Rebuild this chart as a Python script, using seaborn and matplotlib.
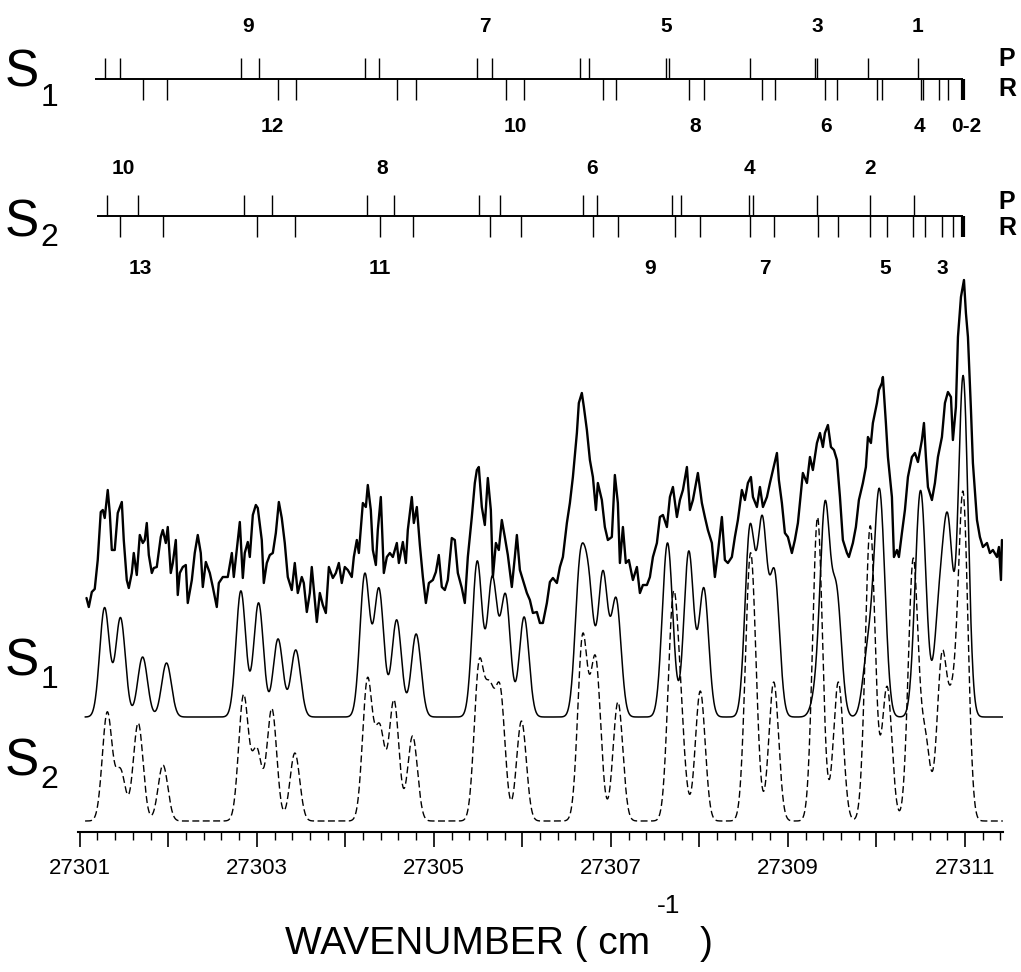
import numpy as np
import pandas as pd
import matplotlib
matplotlib.use("Agg")
import matplotlib.pyplot as plt
from matplotlib import font_manager
from matplotlib.ticker import MultipleLocator, FuncFormatter
import seaborn as sns

# ---------------- data ----------------
# stick positions (cm-1) and simulated line intensities (arb. units)
s1_p_pos = [27301.28, 27301.46, 27302.82, 27303.02, 27304.22, 27304.38, 27305.49, 27305.66,
            27306.65, 27306.75, 27307.62, 27307.66, 27308.57, 27309.31, 27309.33, 27309.90, 27310.47]
s1_p_int = [109, 99, 126, 114, 142, 127, 155, 137, 140, 120, 93, 93, 185, 10, 10, 60, 90]
s1_r_pos = [27301.71, 27301.98, 27303.24, 27303.44, 27304.58, 27304.80, 27305.81, 27306.02,
            27306.91, 27307.06, 27307.88, 27308.05, 27308.71, 27308.85, 27309.42, 27309.55,
            27310.01, 27310.06, 27310.50, 27310.53, 27310.71, 27310.81, 27310.98]
s1_r_int = [60, 54, 78, 67, 97, 83, 120, 100, 142, 116, 165, 128, 189, 140, 205, 120,
            130, 120, 80, 80, 100, 180, 340]

s2_p_pos = [27301.31, 27301.66, 27302.85, 27303.17, 27304.25, 27304.55, 27305.51, 27305.75,
            27306.68, 27306.84, 27307.69, 27307.79, 27308.56, 27308.61, 27309.33, 27309.93, 27310.42]
s2_p_int = [108, 98, 125, 112, 140, 120, 150, 125, 180, 110, 150, 70, 100, 100, 155, 150, 130]
s2_r_pos = [27301.46, 27301.94, 27303.00, 27303.43, 27304.39, 27304.76, 27305.63, 27305.99,
            27306.80, 27307.08, 27307.73, 27308.01, 27308.57, 27308.84, 27309.34, 27309.57,
            27309.93, 27310.12, 27310.41, 27310.55, 27310.74, 27310.86, 27310.98]
s2_r_int = [50, 56, 70, 68, 90, 85, 115, 100, 60, 119, 70, 130, 90, 139, 150, 139,
            145, 134, 130, 80, 160, 100, 320]

line_sigma = 0.055  # cm-1, Gaussian width of simulated lines

# rotational labels
s1_p_labels = ["9", "7", "5", "3", "1"]
s1_p_label_pos = [27302.90, 27305.58, 27307.63, 27309.33, 27310.46]
s1_r_labels = ["12", "10", "8", "6", "4", "0-2"]
s1_r_label_pos = [27303.18, 27305.92, 27307.95, 27309.43, 27310.49, 27311.02]
s2_p_labels = ["10", "8", "6", "4", "2"]
s2_p_label_pos = [27301.49, 27304.42, 27306.79, 27308.57, 27309.93]
s2_r_labels = ["13", "11", "9", "7", "5", "3"]
s2_r_label_pos = [27301.68, 27304.39, 27307.44, 27308.74, 27310.10, 27310.75]

# experimental trace: wavenumber above 27300 cm-1, intensity (arb.)
exp_wn_off = [
    1.076, 1.102, 1.136, 1.169, 1.203, 1.237, 1.260, 1.282, 1.316, 1.339,
    1.362, 1.395, 1.429, 1.475, 1.497, 1.531, 1.554, 1.588, 1.610, 1.644,
    1.678, 1.712, 1.734, 1.757, 1.780, 1.814, 1.836, 1.870, 1.915, 1.938,
    1.972, 1.994, 2.028, 2.051, 2.085, 2.107, 2.130, 2.164, 2.198, 2.220,
    2.266, 2.299, 2.333, 2.367, 2.390, 2.424, 2.469, 2.503, 2.548, 2.571,
    2.616, 2.672, 2.718, 2.740, 2.774, 2.808, 2.842, 2.864, 2.898, 2.921,
    2.955, 2.989, 3.011, 3.056, 3.079, 3.113, 3.147, 3.181, 3.215, 3.249,
    3.282, 3.316, 3.350, 3.395, 3.429, 3.463, 3.508, 3.531, 3.565, 3.599,
    3.621, 3.655, 3.678, 3.712, 3.746, 3.780, 3.814, 3.859, 3.893, 3.927,
    3.960, 3.994, 4.028, 4.073, 4.096, 4.130, 4.153, 4.198, 4.232, 4.254,
    4.288, 4.311, 4.345, 4.367, 4.401, 4.435, 4.469, 4.503, 4.537, 4.582,
    4.605, 4.650, 4.684, 4.706, 4.751, 4.774, 4.808, 4.842, 4.876, 4.910,
    4.944, 4.989, 5.023, 5.056, 5.090, 5.124, 5.158, 5.203, 5.237, 5.271,
    5.316, 5.350, 5.384, 5.429, 5.463, 5.486, 5.508, 5.542, 5.576, 5.610,
    5.644, 5.667, 5.701, 5.734, 5.768, 5.802, 5.836, 5.881, 5.915, 5.938,
    5.972, 6.006, 6.051, 6.085, 6.119, 6.164, 6.198, 6.232,
    6.277, 6.311, 6.345, 6.390, 6.424, 6.458, 6.503, 6.537, 6.571, 6.616,
    6.638, 6.672, 6.695, 6.729, 6.763, 6.797, 6.831, 6.853, 6.898, 6.932,
    6.966, 7.011, 7.045, 7.079, 7.102, 7.136, 7.169, 7.203, 7.249, 7.294,
    7.328, 7.362, 7.407, 7.441, 7.475, 7.520, 7.554, 7.588, 7.633, 7.667,
    7.701, 7.746, 7.780, 7.814, 7.859, 7.893, 7.927, 7.983, 8.028, 8.062,
    8.096, 8.141, 8.175, 8.209, 8.254, 8.288, 8.322, 8.367, 8.401, 8.435,
    8.480, 8.514, 8.548, 8.582, 8.605, 8.650, 8.684, 8.718, 8.763, 8.797,
    8.831, 8.876, 8.898, 8.932, 8.966, 9.000, 9.045, 9.079, 9.113, 9.169,
    9.215, 9.249, 9.282, 9.328, 9.362, 9.395, 9.418, 9.452, 9.486, 9.520,
    9.554, 9.588, 9.621, 9.667, 9.689, 9.734, 9.768, 9.802, 9.847, 9.881,
    9.904, 9.938, 9.960, 10.006, 10.028, 10.062, 10.073, 10.107, 10.130, 10.175,
    10.198, 10.232, 10.254, 10.288, 10.322, 10.356, 10.401, 10.435, 10.469, 10.514,
    10.537, 10.559, 10.582, 10.627, 10.661, 10.695, 10.740, 10.774, 10.808, 10.842,
    10.864, 10.898, 10.921, 10.955, 10.989, 11.011, 11.034, 11.068, 11.090, 11.136,
    11.169, 11.203, 11.249, 11.282, 11.316, 11.362, 11.384, 11.407, 11.418]
exp_int = [
    42, 33, 48, 51, 80, 128, 130, 122, 150, 127,
    90, 90, 127, 138, 100, 60, 52, 67, 87, 65,
    105, 97, 100, 117, 85, 67, 72, 73, 103, 110,
    97, 113, 67, 77, 100, 45, 67, 73, 75, 37,
    60, 87, 105, 87, 53, 78, 67, 53, 33, 57,
    63, 63, 87, 63, 90, 118, 62, 87, 98, 83,
    125, 135, 132, 100, 57, 77, 85, 87, 107, 138,
    122, 97, 63, 50, 77, 47, 63, 57, 28, 47,
    73, 40, 18, 47, 35, 27, 73, 62, 67, 77,
    57, 73, 70, 63, 83, 100, 87, 137, 133, 155,
    130, 90, 75, 110, 143, 67, 83, 87, 83, 97,
    77, 98, 77, 110, 143, 117, 133, 95, 63, 37,
    57, 60, 68, 85, 53, 50, 60, 102, 100, 67,
    52, 37, 83, 123, 157, 170, 173, 133, 115, 162,
    130, 63, 97, 90, 120, 103, 85, 53, 83, 105,
    70, 60, 47, 40, 27, 28, 17, 17,
    37, 58, 62, 57, 73, 83, 117, 137, 163, 207,
    237, 247, 233, 210, 180, 163, 130, 157, 140, 113,
    100, 103, 165, 137, 77, 113, 77, 80, 60, 73,
    47, 55, 55, 63, 83, 97, 123, 125, 113, 143,
    153, 123, 140, 150, 173, 130, 140, 167, 137, 123,
    110, 97, 63, 87, 123, 80, 77, 83, 103, 120,
    150, 140, 157, 163, 143, 133, 153, 133, 143, 157,
    170, 187, 160, 137, 107, 103, 87, 100, 117, 167,
    157, 183, 170, 197, 207, 193, 207, 215, 193, 190,
    180, 143, 100, 87, 83, 97, 113, 140, 157, 173,
    203, 197, 217, 237, 250, 257, 263, 217, 183, 143,
    83, 90, 83, 107, 130, 163, 183, 187, 178, 200,
    217, 183, 153, 140, 157, 183, 203, 237, 248, 243,
    200, 233, 303, 343, 360, 327, 303, 230, 177, 120,
    103, 93, 97, 87, 90, 83, 93, 60, 100]

# ---------------- layout (pixel-like vertical units, 0 = axis line) ----------------
W, H = 1021, 972
Y_TOP = 832
S1_STICK_BASE = Y_TOP - 79
S2_STICK_BASE = Y_TOP - 216
STICK_LEN = 21
EXP_OFF = Y_TOP - 640
S1_SIM_OFF = Y_TOP - 717
S2_SIM_OFF = Y_TOP - 821
X_LEFT, X_RIGHT = 27300.98, 27311.43

sns.set_theme(style="white")
avail = {f.name for f in font_manager.fontManager.ttflist}
NARROW = "Liberation Sans Narrow" if "Liberation Sans Narrow" in avail else "Liberation Sans"
plt.rcParams["font.family"] = [NARROW, "Liberation Sans", "DejaVu Sans"]

fig = plt.figure(figsize=(W / 100, H / 100), dpi=100)
ax = fig.add_axes([78 / W, (H - Y_TOP) / H, 925 / W, Y_TOP / H])
ax.set_xlim(X_LEFT, X_RIGHT)
ax.set_ylim(0, Y_TOP)

def simulate(pos_list, int_list, grid):
    pos = np.asarray(pos_list)[:, None]
    amp = np.asarray(int_list)[:, None]
    return (amp * np.exp(-0.5 * ((grid[None, :] - pos) / line_sigma) ** 2)).sum(axis=0)

grid = np.arange(27301.06, 27311.43, 0.004)
s1_sim = simulate(s1_p_pos + s1_r_pos, s1_p_int + s1_r_int, grid)
s2_sim = simulate(s2_p_pos + s2_r_pos, s2_p_int + s2_r_int, grid)

df_exp = pd.DataFrame({"wn": 27300 + np.asarray(exp_wn_off), "y": np.asarray(exp_int) + EXP_OFF})
df_s1 = pd.DataFrame({"wn": grid, "y": s1_sim + S1_SIM_OFF})
df_s2 = pd.DataFrame({"wn": grid, "y": s2_sim + S2_SIM_OFF})

sns.lineplot(data=df_exp, x="wn", y="y", ax=ax, color="black", lw=1.7,
             estimator=None, sort=False)
sns.lineplot(data=df_s1, x="wn", y="y", ax=ax, color="black", lw=1.1,
             estimator=None, sort=False)
sns.lineplot(data=df_s2, x="wn", y="y", ax=ax, color="black", lw=1.0,
             estimator=None, sort=False, linestyle=(0, (5, 2.5)))

# stick diagrams
for base, p_pos, r_pos, x0 in [(S1_STICK_BASE, s1_p_pos, s1_r_pos, 27301.17),
                                (S2_STICK_BASE, s2_p_pos, s2_r_pos, 27301.19)]:
    ax.hlines(base, x0, 27310.98, color="black", lw=1.4)
    ax.vlines(p_pos, base, base + STICK_LEN, color="black", lw=1.0)
    ax.vlines(r_pos[:-1], base - STICK_LEN, base, color="black", lw=1.0)
    ax.vlines(r_pos[-1:], base - STICK_LEN, base, color="black", lw=3.0)

num_kw = dict(ha="center", va="center", fontsize=15, fontweight="bold", color="black")
for s, x in zip(s1_p_labels, s1_p_label_pos):
    ax.text(x, Y_TOP - 27, s, **num_kw)
for s, x in zip(s1_r_labels, s1_r_label_pos):
    ax.text(x, Y_TOP - 127, s, **num_kw)
for s, x in zip(s2_p_labels, s2_p_label_pos):
    ax.text(x, Y_TOP - 168, s, **num_kw)
for s, x in zip(s2_r_labels, s2_r_label_pos):
    ax.text(x, Y_TOP - 268, s, **num_kw)

def ftext(xp, yp, s, size, ha="center", va="center", **kw):
    fig.text(xp / W, 1 - yp / H, s, ha=ha, va=va, fontsize=size, color="black", **kw)

# branch labels
for yp, s in [(59, "P"), (89, "R"), (202, "P"), (228, "R")]:
    ftext(1007, yp, s, 18, fontweight="bold")

# state labels
for ys_big, ys_sub, sub in [(73, 98, "1"), (223, 238, "2"), (662, 680, "1"), (762, 780, "2")]:
    ftext(22, ys_big, "S", 37)
    ftext(49, ys_sub, sub, 23)

# axis
for sp in ["left", "right", "top"]:
    ax.spines[sp].set_visible(False)
ax.spines["bottom"].set_linewidth(1.5)
ax.spines["bottom"].set_color("black")
ax.set_yticks([])
ax.set_xlabel("")
ax.set_ylabel("")
ax.xaxis.set_major_locator(MultipleLocator(1))
ax.xaxis.set_minor_locator(MultipleLocator(0.2))
ax.xaxis.set_major_formatter(FuncFormatter(
    lambda v, p: f"{int(round(v))}" if int(round(v)) % 2 == 1 else ""))
ax.tick_params(axis="x", which="major", bottom=True, length=11, width=1.2,
               direction="out", pad=8, labelsize=16, colors="black")
ax.tick_params(axis="x", which="minor", bottom=True, length=6, width=1.0,
               direction="out", colors="black")

# axis title
ftext(285, 944, "WAVENUMBER ( cm", 28, ha="left")
ftext(657, 906, "-1", 19, ha="left")
ftext(700, 944, ")", 28, ha="left")

fig.savefig("out.png", dpi=100, facecolor="white")
